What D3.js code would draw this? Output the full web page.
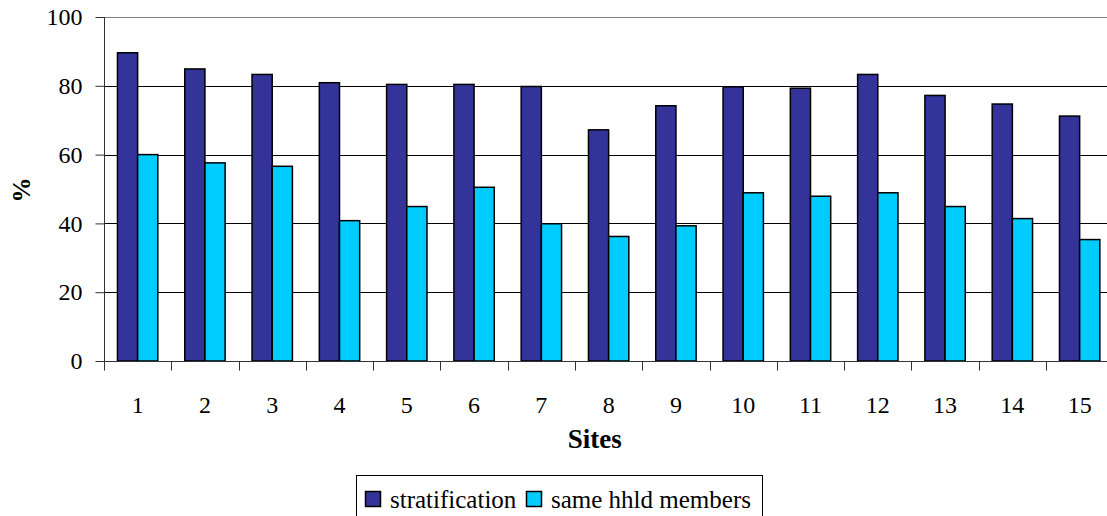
<!DOCTYPE html>
<html>
<head>
<meta charset="utf-8">
<script src="https://cdn.jsdelivr.net/npm/d3@7"></script>
<style>
  html, body { margin: 0; padding: 0; background: #fff; overflow: hidden; }
  svg text { font-family: "Liberation Serif", "Noto Serif", "DejaVu Serif", "FreeSerif", "Nimbus Roman", "Nimbus Roman No9 L", Georgia, serif; }
</style>
</head>
<body>
<svg id="chart" width="1107" height="516"></svg>
<script>
// Share of respondents (%) per site
const sites = ["1","2","3","4","5","6","7","8","9","10","11","12","13","14","15"];
const stratification = [89.6, 84.9, 83.3, 80.9, 80.4, 80.4, 79.8, 67.2, 74.2, 79.7, 79.3, 83.3, 77.2, 74.7, 71.2];
const sameHhld = [60.0, 57.6, 56.6, 40.8, 44.9, 50.5, 39.9, 36.2, 39.3, 48.9, 47.9, 48.9, 44.9, 41.4, 35.3];
const seriesNames = ["stratification", "same hhld members"];
const seriesColors = ["#333399", "#00CCFF"];
const yTicks = [0, 20, 40, 60, 80, 100];

const svg = d3.select("#chart");
const m = { left: 104, top: 17, right: 1113.3, bottom: 361 };

const x = d3.scaleBand().domain(sites).range([m.left, m.right]).paddingInner(0.4).paddingOuter(0.2);
const xSub = d3.scaleBand().domain(seriesNames).range([0, x.bandwidth()]);
const y = d3.scaleLinear().domain([0, 100]).range([m.bottom, m.top]);

// horizontal gridlines
svg.append("g").selectAll("line").data(yTicks.filter(t => t > 0)).join("line")
  .attr("x1", m.left).attr("x2", m.right)
  .attr("y1", d => Math.round(y(d)) + 0.5).attr("y2", d => Math.round(y(d)) + 0.5)
  .attr("stroke", d => d === 100 ? "#808080" : "#000").attr("stroke-width", 1);

// bars
const rows = sites.map((s, i) => ({ site: s, values: [stratification[i], sameHhld[i]] }));
const groups = svg.append("g").selectAll("g").data(rows).join("g")
  .attr("transform", d => `translate(${x(d.site)},0)`);
groups.selectAll("rect").data(d => d.values.map((v, k) => ({ v, k })))
  .join("rect")
  .attr("x", d => xSub(seriesNames[d.k]))
  .attr("width", xSub.bandwidth())
  .attr("y", d => y(d.v))
  .attr("height", d => y(0) - y(d.v))
  .attr("fill", d => seriesColors[d.k])
  .attr("stroke", "#000").attr("stroke-width", 1.5);

// y axis
const yAxis = svg.append("g").attr("transform", `translate(${m.left + 0.5},0)`)
  .call(d3.axisLeft(y).tickValues(yTicks).tickSize(9).tickPadding(13));
yAxis.attr("font-family", null).attr("font-size", null);
yAxis.select(".domain").attr("stroke", "#333").attr("d", `M0,${m.top}V${m.bottom}`);
yAxis.selectAll(".tick line").attr("stroke", "#333");
yAxis.selectAll("text").attr("font-size", 24).attr("fill", "#000");

// x axis with ticks at the band boundaries
const xAxisG = svg.append("g").attr("transform", `translate(0,${m.bottom + 0.5})`);
xAxisG.append("line").attr("x1", m.left).attr("x2", m.right).attr("stroke", "#333");
const bounds = sites.map(s => x(s) - x.step() * x.paddingOuter());
xAxisG.selectAll("line.tk").data(bounds).join("line").attr("class", "tk")
  .attr("x1", d => Math.round(d) + 0.5).attr("x2", d => Math.round(d) + 0.5)
  .attr("y1", 0).attr("y2", 9).attr("stroke", "#333");
xAxisG.selectAll("text").data(sites).join("text")
  .attr("x", d => x(d) + x.bandwidth() / 2)
  .attr("y", 51.5)
  .attr("text-anchor", "middle")
  .attr("font-size", 24)
  .text(d => d);

// axis titles
svg.append("text").attr("x", (m.left + m.right) / 2 - 14).attr("y", 448)
  .attr("text-anchor", "middle").attr("font-size", 27).attr("font-weight", "bold")
  .text("Sites");
svg.append("text").attr("transform", "translate(30,190) rotate(-90)")
  .attr("text-anchor", "middle").attr("font-size", 25).attr("font-weight", "bold")
  .text("%");

// legend
const lg = svg.append("g");
lg.append("rect").attr("x", 356.5).attr("y", 475.5).attr("width", 406).attr("height", 60)
  .attr("fill", "#fff").attr("stroke", "#000").attr("stroke-width", 1);
const legendItems = [{ x: 365 }, { x: 526 }];
seriesNames.forEach((name, k) => {
  const lx = legendItems[k].x;
  lg.append("rect").attr("x", lx + 0.5).attr("y", 491.5).attr("width", 15).attr("height", 15)
    .attr("fill", seriesColors[k]).attr("stroke", "#000").attr("stroke-width", 1.5);
  lg.append("text").attr("x", lx + 25).attr("y", 508).attr("font-size", 25).text(name);
});
</script>
</body>
</html>
